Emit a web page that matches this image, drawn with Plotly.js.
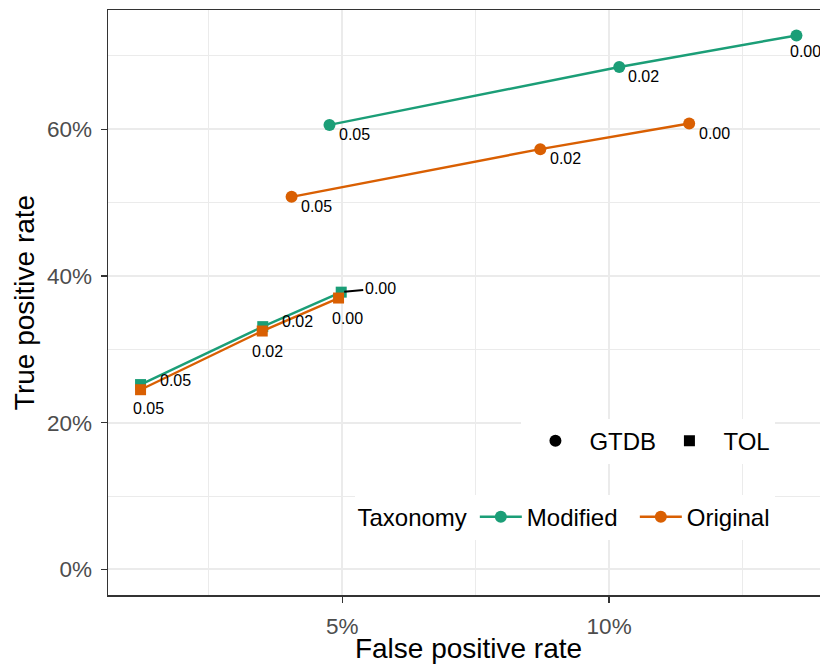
<!DOCTYPE html>
<html>
<head>
<meta charset="utf-8">
<script src="https://cdn.plot.ly/plotly-3.0.1.min.js"></script>
<style>
  html, body { margin: 0; padding: 0; overflow: hidden; background: #ffffff; }
  #chart { width: 830px; height: 664px; }
</style>
</head>
<body>
<div id="chart"></div>
<script>
// ---- Data ----
const thresholds = ['0.05', '0.02', '0.00'];

const modifiedGtdbFpr = [0.0476, 0.1019, 0.1351];
const modifiedGtdbTpr = [0.606, 0.685, 0.728];

const originalGtdbFpr = [0.0405, 0.0871, 0.1150];
const originalGtdbTpr = [0.508, 0.573, 0.608];

const modifiedTolFpr = [0.0122, 0.0351, 0.0498];
const modifiedTolTpr = [0.252, 0.331, 0.378];

const originalTolFpr = [0.0122, 0.0350, 0.0493];
const originalTolTpr = [0.245, 0.325, 0.370];

const taxonomyNames = ['Modified', 'Original'];
const methodNames = ['GTDB', 'TOL'];

// ---- Styles ----
const GREEN = '#1B9E77';
const ORANGE = '#D95F02';
const FONT = 'Liberation Sans, Arial, Helvetica, sans-serif';
const LW = 2.4;

function series(x, y, color, symbol, size) {
  return {
    x: x, y: y, type: 'scatter', mode: 'lines+markers',
    line: { color: color, width: LW },
    marker: { color: color, symbol: symbol, size: size },
    showlegend: false, hoverinfo: 'skip', cliponaxis: false
  };
}

const traces = [
  series(modifiedGtdbFpr, modifiedGtdbTpr, GREEN, 'circle', 12),
  series(modifiedTolFpr, modifiedTolTpr, GREEN, 'square', 11),
  series(originalGtdbFpr, originalGtdbTpr, ORANGE, 'circle', 12),
  series(originalTolFpr, originalTolTpr, ORANGE, 'square', 11),
  // colour legend entries
  { x: [null], y: [null], type: 'scatter', mode: 'lines+markers', name: taxonomyNames[0],
    line: { color: GREEN, width: LW }, marker: { color: GREEN, size: 12 },
    legend: 'legend', legendwidth: 103 },
  { x: [null], y: [null], type: 'scatter', mode: 'lines+markers', name: taxonomyNames[1],
    line: { color: ORANGE, width: LW }, marker: { color: ORANGE, size: 12 },
    legend: 'legend' },
  // shape legend entries
  { x: [null], y: [null], type: 'scatter', mode: 'markers', name: methodNames[0],
    marker: { color: 'black', symbol: 'circle', size: 12 }, legend: 'legend2', legendwidth: 61 },
  { x: [null], y: [null], type: 'scatter', mode: 'markers', name: methodNames[1],
    marker: { color: 'black', symbol: 'square', size: 11 }, legend: 'legend2' }
];

// ---- Threshold labels (pixel offsets are styling) ----
const labelOffsets = {
  modGtdb: [[25, -10], [24, -10], [9, -16]],
  origGtdb: [[25, -10], [25, -9], [25, -10]],
  modTol: [[35, 4], [35, 5], null],
  origTol: [[8, -19], [5, -20], [9, -20]]
};
const annotations = [];
function addLabels(xs, ys, offs) {
  xs.forEach((xv, i) => {
    const o = offs[i];
    const base = {
      x: xv, y: ys[i], xref: 'x', yref: 'y', text: thresholds[i],
      xanchor: 'center', yanchor: 'middle',
      font: { family: FONT, size: 16, color: '#000000' }
    };
    if (o) {
      annotations.push(Object.assign(base, { showarrow: false, xshift: o[0], yshift: o[1] }));
    } else {
      annotations.push(Object.assign(base, {
        showarrow: true, ax: 39, ay: -4, arrowhead: 0, arrowwidth: 2,
        arrowcolor: '#000000', standoff: 3
      }));
    }
  });
}
addLabels(modifiedGtdbFpr, modifiedGtdbTpr, labelOffsets.modGtdb);
addLabels(originalGtdbFpr, originalGtdbTpr, labelOffsets.origGtdb);
addLabels(modifiedTolFpr, modifiedTolTpr, labelOffsets.modTol);
addLabels(originalTolFpr, originalTolTpr, labelOffsets.origTol);

const axisCommon = {
  showline: true, linecolor: '#333333', linewidth: 1.5, mirror: true,
  ticks: 'outside', ticklen: 6, tickwidth: 1.5, tickcolor: '#333333',
  tickformat: '.0%', zeroline: false,
  gridcolor: '#EBEBEB', gridwidth: 2,
  tickfont: { family: FONT, size: 22.5, color: '#4D4D4D' },
  ticklabelstandoff: 4
};

const layout = {
  width: 830, height: 664,
  margin: { l: 108, r: 1, t: 10, b: 69 },
  paper_bgcolor: '#ffffff', plot_bgcolor: '#ffffff',
  font: { family: FONT, color: '#000000' },
  xaxis: Object.assign({}, axisCommon, {
    range: [0.0061, 0.1412], tick0: 0, dtick: 0.05,
    minor: { dtick: 0.025, showgrid: true, gridcolor: '#EBEBEB', gridwidth: 1 },
    title: { text: 'False positive rate', font: { family: FONT, size: 28, color: '#000000' }, standoff: 6 }
  }),
  yaxis: Object.assign({}, axisCommon, {
    range: [-0.0349, 0.7627], tick0: 0, dtick: 0.2,
    minor: { dtick: 0.1, showgrid: true, gridcolor: '#EBEBEB', gridwidth: 1 },
    title: { text: 'True positive rate', font: { family: FONT, size: 28, color: '#000000' }, standoff: 4 }
  }),
  legend: {
    title: { text: 'Taxonomy', side: 'left', font: { family: FONT, size: 24, color: '#000000' } },
    orientation: 'h', x: 0.9257, xanchor: 'right', y: 0.133, yanchor: 'middle',
    itemwidth: 42,
    bgcolor: '#ffffff', font: { family: FONT, size: 24, color: '#000000' }
  },
  legend2: {
    orientation: 'h', x: 0.9257, xanchor: 'right', y: 0.263, yanchor: 'middle',
    itemwidth: 58,
    bgcolor: '#ffffff', font: { family: FONT, size: 24, color: '#000000' }
  },
  annotations: annotations,
  showlegend: true
};

Plotly.newPlot('chart', traces, layout, { displayModeBar: false, staticPlot: true });
</script>
</body>
</html>
